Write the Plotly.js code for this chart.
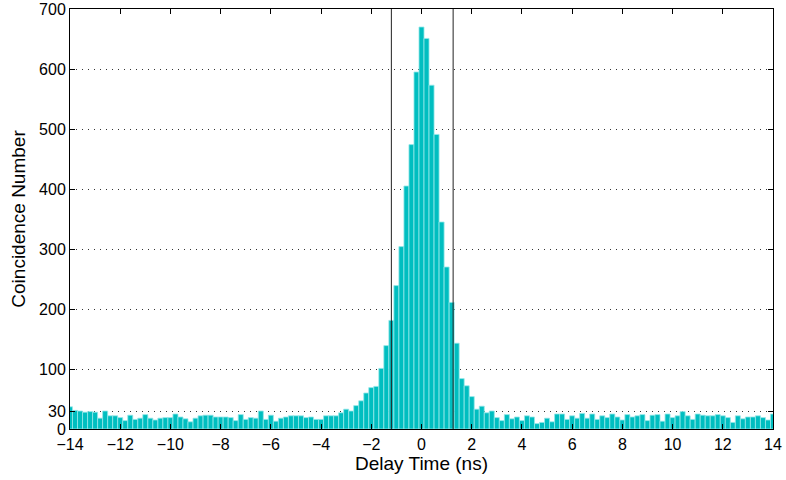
<!DOCTYPE html>
<html>
<head>
<meta charset="utf-8">
<script src="https://cdn.plot.ly/plotly-3.0.1.min.js"></script>
<style>html,body{margin:0;padding:0;background:#fff;}#chart{width:786px;height:480px;}</style>
</head>
<body>
<div id="chart"></div>
<script>
// Bin centres (ns)
const delayTime = [
-14.0,-13.8,-13.6,-13.4,-13.2,-13.0,-12.8,-12.6,-12.4,-12.2,
-12.0,-11.8,-11.6,-11.4,-11.2,-11.0,-10.8,-10.6,-10.4,-10.2,
-10.0,-9.8,-9.6,-9.4,-9.2,-9.0,-8.8,-8.6,-8.4,-8.2,
-8.0,-7.8,-7.6,-7.4,-7.2,-7.0,-6.8,-6.6,-6.4,-6.2,
-6.0,-5.8,-5.6,-5.4,-5.2,-5.0,-4.8,-4.6,-4.4,-4.2,
-4.0,-3.8,-3.6,-3.4,-3.2,-3.0,-2.8,-2.6,-2.4,-2.2,
-2.0,-1.8,-1.6,-1.4,-1.2,-1.0,-0.8,-0.6,-0.4,-0.2,
0.0,0.2,0.4,0.6,0.8,1.0,1.2,1.4,1.6,1.8,
2.0,2.2,2.4,2.6,2.8,3.0,3.2,3.4,3.6,3.8,
4.0,4.2,4.4,4.6,4.8,5.0,5.2,5.4,5.6,5.8,
6.0,6.2,6.4,6.6,6.8,7.0,7.2,7.4,7.6,7.8,
8.0,8.2,8.4,8.6,8.8,9.0,9.2,9.4,9.6,9.8,
10.0,10.2,10.4,10.6,10.8,11.0,11.2,11.4,11.6,11.8,
12.0,12.2,12.4,12.6,12.8,13.0,13.2,13.4,13.6,13.8,
14.0];

// Coincidence counts per bin
const coincidences = [
37,31,30,28,29,28,18,30,22,22,
19,14,23,16,18,24,18,15,18,19,
19,25,20,17,12,18,22,23,23,20,
20,20,19,14,24,16,19,18,30,16,
23,13,18,20,22,22,22,19,20,16,
16,22,22,22,27,33,30,39,47,60,
69,71,101,139,181,239,304,405,474,595,
670,651,573,491,345,270,211,143,84,72,
54,33,38,27,30,19,14,24,17,20,
14,22,20,9,11,18,12,25,25,16,
22,18,26,18,25,16,22,19,25,20,
15,24,20,22,24,14,23,24,13,25,
19,22,29,22,16,25,23,22,22,24,
22,19,11,22,17,20,20,22,19,15,
25];

// Coincidence window markers (ns)
const windowEdges = [-1.2, 1.26];

const xTicks = [-14,-12,-10,-8,-6,-4,-2,0,2,4,6,8,10,12,14];
const yTicks = [0,30,100,200,300,400,500,600,700];

const trace = {
  type: 'bar',
  x: delayTime,
  y: coincidences,
  width: 0.2,
  marker: {color: 'rgb(0,190,192)', line: {color: 'rgb(150,232,234)', width: 0.8}},
  hoverinfo: 'x+y'
};

const shapes = windowEdges.map(v => ({
  type: 'line', xref: 'x', yref: 'paper', x0: v, x1: v, y0: 0, y1: 1,
  line: {color: '#222', width: 1}
}));

const font = {family: 'Liberation Sans, Arial, Helvetica, sans-serif', color: '#000'};

const layout = {
  width: 786, height: 480,
  margin: {l: 70, r: 13, t: 9, b: 51},
  paper_bgcolor: '#fff', plot_bgcolor: '#fff',
  bargap: 0,
  showlegend: false,
  font: Object.assign({size: 16}, font),
  xaxis: {
    range: [-14, 14], tickvals: xTicks, ticktext: xTicks.map(v => v < 0 ? '\u2212' + Math.abs(v) : String(v)),
    ticks: 'inside', ticklen: 5, tickcolor: '#000', tickwidth: 1,
    showline: true, linecolor: '#000', linewidth: 1, mirror: 'ticks',
    showgrid: false, zeroline: false,
    ticklabelstandoff: 1,
    tickfont: Object.assign({size: 16}, font),
    title: {text: 'Delay Time (ns)', font: Object.assign({size: 19}, font), standoff: 3}
  },
  yaxis: {
    range: [0, 700], tickvals: yTicks,
    ticks: 'inside', ticklen: 5, tickcolor: '#000', tickwidth: 1,
    showline: true, linecolor: '#000', linewidth: 1, mirror: 'ticks',
    showgrid: true, gridcolor: '#333', griddash: '1px,5px', gridwidth: 1,
    zeroline: false,
    ticklabeloverflow: 'allow',
    tickfont: Object.assign({size: 16}, font),
    title: {text: 'Coincidence Number', font: Object.assign({size: 19}, font), standoff: 8}
  },
  shapes: shapes
};

Plotly.newPlot('chart', [trace], layout, {displayModeBar: false, staticPlot: true});
</script>
</body>
</html>
